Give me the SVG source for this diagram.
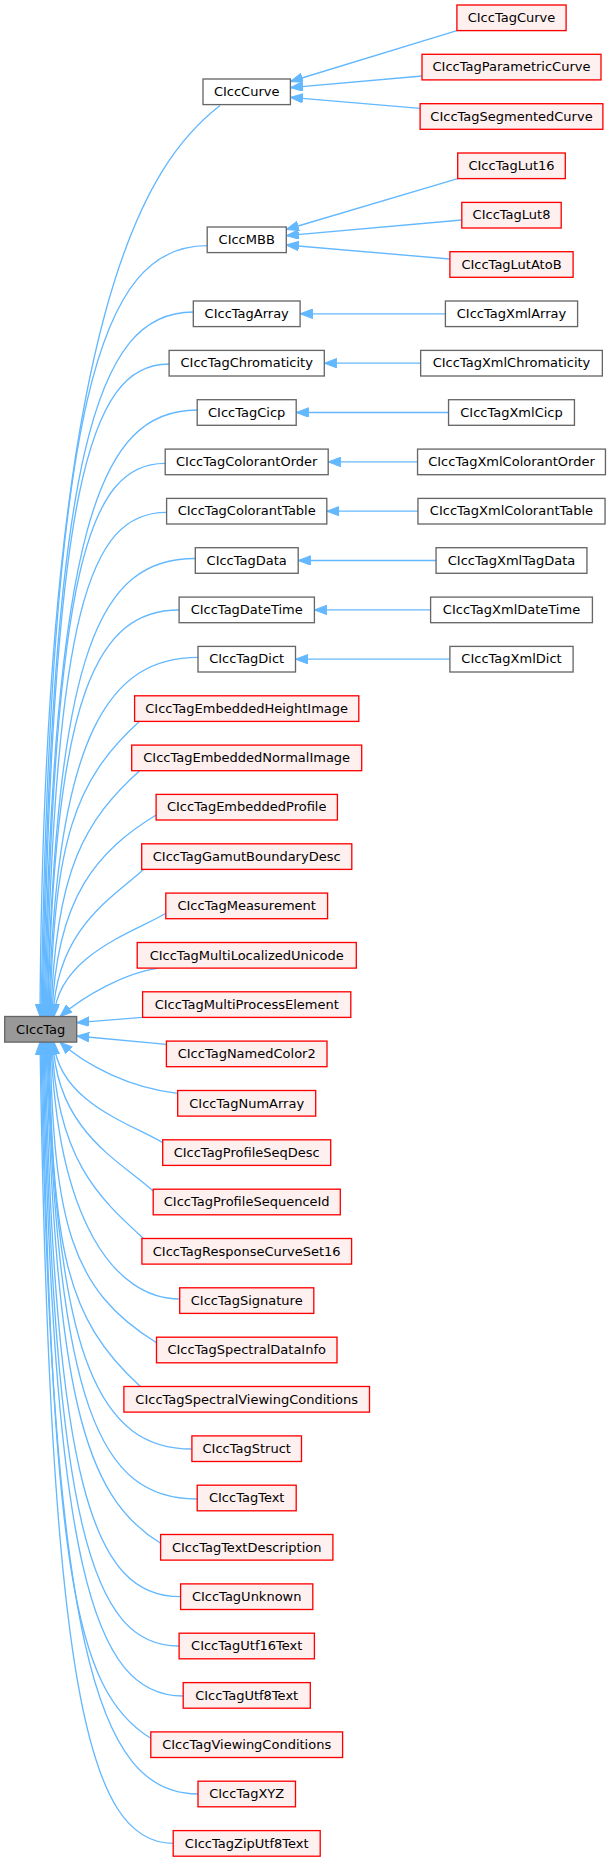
<svg xmlns="http://www.w3.org/2000/svg" width="611" height="1861" viewBox="0 0 611 1861">
<style>
rect{stroke-width:1.33}
.w rect{fill:#ffffff;stroke:#666666}
.r rect{fill:#fff0f0;stroke:#ff0000}
.g rect{fill:#999999;stroke:#666666}
text{font-family:"DejaVu Sans","Liberation Sans",sans-serif;font-size:13px;text-anchor:middle;fill:#000000}
#edges path{fill:none;stroke:#63b8ff;stroke-width:1.33;marker-start:url(#a)}
</style>
<defs>
<marker id="a" markerWidth="13" markerHeight="10" viewBox="0 0 13 10" refX="12.5" refY="4.75" orient="auto-start-reverse" markerUnits="userSpaceOnUse">
<path d="M0,0 L12.5,4.75 L0,9.5 z" fill="#63b8ff" stroke="#63b8ff" stroke-width="1"/>
</marker>
</defs>
<rect x="0" y="0" width="611" height="1861" fill="#ffffff"/>
<g id="edges">
<path d="M290.4,81.5 L456.9,30.6"/>
<path d="M290.4,87.7 L422,76"/>
<path d="M290.4,97.3 L420.1,108.3"/>
<path d="M286.3,229.5 L457.7,178.6"/>
<path d="M286.3,235.7 L461.8,220"/>
<path d="M286.3,245 L449.9,259"/>
<path d="M300.1,313.8 L445.4,313.8"/>
<path d="M324.3,363.2 L420.65,363.2"/>
<path d="M296.2,412.5 L448.55,412.5"/>
<path d="M328.2,461.9 L417.55,461.9"/>
<path d="M326.8,511.2 L417.95,511.2"/>
<path d="M298.2,560.5 L436.05,560.5"/>
<path d="M314.4,609.9 L430.6,609.9"/>
<path d="M295.5,659.2 L449.9,659.2"/>
<path d="M40,1016.5 C44,300 150,160 220,105.4"/>
<path d="M41,1016.5 C51,399.9 99.2,245.7 207.2,245.7"/>
<path d="M42,1016.5 C52,452.9 95,312 193.3,312"/>
<path d="M43,1016.5 C53,494.5 87.1,364 169.1,364"/>
<path d="M44,1016.5 C54,531.3 97.6,410 197.2,410"/>
<path d="M45,1016.5 C55,573.9 87.1,463.3 165.2,463.3"/>
<path d="M46,1016.5 C56,613.1 88.2,512.3 166.6,512.3"/>
<path d="M47,1016.5 C57,650.1 98.9,558.5 195.3,558.5"/>
<path d="M48,1016.5 C54,691.3 98.3,610 179.1,610"/>
<path d="M49,1016.5 C55,729.1 111.9,657.3 198,657.3"/>
<path d="M50,1016.5 C54,839.4 74.7,780.3 139.6,721.3"/>
<path d="M51,1016.5 C55,869 85.5,819.9 139.6,770.7"/>
<path d="M52,1016.5 C56,895.6 98.4,850.4 156.1,815"/>
<path d="M53,1016.5 C57,928.2 111.2,898.7 143.5,869.4"/>
<path d="M54,1016.5 C58,954.6 136.3,931.5 165.8,913.3"/>
<path d="M60,1016.5 C85,995 125,973 158,968.1"/>
<path d="M76.7,1022.7 L142.6,1017.3"/>
<path d="M76.7,1036 L166.4,1044.3"/>
<path d="M60,1042.1 C85,1065 130,1088 177.7,1093.3"/>
<path d="M54,1042.1 C58,1102.5 134,1125 162.7,1142.7"/>
<path d="M53,1042.1 C57,1131.4 120.4,1161.2 153.2,1191"/>
<path d="M52,1042.1 C56,1159.8 100.4,1199.1 143.5,1238.5"/>
<path d="M51,1042.1 C57,1221.9 115.3,1299 179.7,1299"/>
<path d="M50,1042.1 C54,1222.5 70.5,1289.8 156.5,1342.7"/>
<path d="M49,1042.1 C53,1248.7 64.6,1317.6 140.4,1386.5"/>
<path d="M48,1042.1 C54,1367.6 103.3,1449 191.9,1449"/>
<path d="M47,1042.1 C57,1407.6 99.6,1499 197.2,1499"/>
<path d="M46,1042.1 C56,1392.9 82.6,1495.3 160.6,1543.3"/>
<path d="M45,1042.1 C55,1485.8 92.5,1596.7 180.6,1596.7"/>
<path d="M44,1042.1 C54,1525.2 91.2,1646 179.1,1646"/>
<path d="M43,1042.1 C53,1565.2 92.1,1696 183.2,1696"/>
<path d="M42,1042.1 C52,1564.3 72.8,1690.3 150.8,1738.3"/>
<path d="M41,1042.1 C51,1643.6 96,1794 198,1794"/>
<path d="M40,1042.1 C50,1683.1 86.6,1843.3 173.2,1843.3"/>
</g>
<g id="CIccTagCurve" class="r"><rect x="456.9" y="5" width="109.2" height="25.6"/><text x="511.5" y="22">CIccTagCurve</text></g>
<g id="CIccTagParametricCurve" class="r"><rect x="422" y="54.3" width="179" height="25.6"/><text x="511.5" y="71.3">CIccTagParametricCurve</text></g>
<g id="CIccTagSegmentedCurve" class="r"><rect x="420.1" y="103.7" width="182.8" height="25.6"/><text x="511.5" y="120.7">CIccTagSegmentedCurve</text></g>
<g id="CIccTagLut16" class="r"><rect x="457.7" y="153" width="107.6" height="25.6"/><text x="511.5" y="170">CIccTagLut16</text></g>
<g id="CIccTagLut8" class="r"><rect x="461.8" y="202.4" width="99.4" height="25.6"/><text x="511.5" y="219.4">CIccTagLut8</text></g>
<g id="CIccTagLutAtoB" class="r"><rect x="449.9" y="251.7" width="123.2" height="25.6"/><text x="511.5" y="268.7">CIccTagLutAtoB</text></g>
<g id="CIccTagXmlArray" class="w"><rect x="445.4" y="301" width="132.2" height="25.6"/><text x="511.5" y="318">CIccTagXmlArray</text></g>
<g id="CIccTagXmlChromaticity" class="w"><rect x="420.65" y="350.4" width="181.7" height="25.6"/><text x="511.5" y="367.4">CIccTagXmlChromaticity</text></g>
<g id="CIccTagXmlCicp" class="w"><rect x="448.55" y="399.7" width="125.9" height="25.6"/><text x="511.5" y="416.7">CIccTagXmlCicp</text></g>
<g id="CIccTagXmlColorantOrder" class="w"><rect x="417.55" y="449.1" width="187.9" height="25.6"/><text x="511.5" y="466.1">CIccTagXmlColorantOrder</text></g>
<g id="CIccTagXmlColorantTable" class="w"><rect x="417.95" y="498.4" width="187.1" height="25.6"/><text x="511.5" y="515.4">CIccTagXmlColorantTable</text></g>
<g id="CIccTagXmlTagData" class="w"><rect x="436.05" y="547.7" width="150.9" height="25.6"/><text x="511.5" y="564.7">CIccTagXmlTagData</text></g>
<g id="CIccTagXmlDateTime" class="w"><rect x="430.6" y="597.1" width="161.8" height="25.6"/><text x="511.5" y="614.1">CIccTagXmlDateTime</text></g>
<g id="CIccTagXmlDict" class="w"><rect x="449.9" y="646.4" width="123.2" height="25.6"/><text x="511.5" y="663.4">CIccTagXmlDict</text></g>
<g id="CIccCurve" class="w"><rect x="203" y="79" width="87.4" height="25.6"/><text x="246.7" y="96">CIccCurve</text></g>
<g id="CIccMBB" class="w"><rect x="207.2" y="227" width="79.1" height="25.6"/><text x="246.7" y="244">CIccMBB</text></g>
<g id="CIccTagArray" class="w"><rect x="193.3" y="301" width="106.8" height="25.6"/><text x="246.7" y="318">CIccTagArray</text></g>
<g id="CIccTagChromaticity" class="w"><rect x="169.1" y="350.4" width="155.2" height="25.6"/><text x="246.7" y="367.4">CIccTagChromaticity</text></g>
<g id="CIccTagCicp" class="w"><rect x="197.2" y="399.7" width="99" height="25.6"/><text x="246.7" y="416.7">CIccTagCicp</text></g>
<g id="CIccTagColorantOrder" class="w"><rect x="165.2" y="449.1" width="163" height="25.6"/><text x="246.7" y="466.1">CIccTagColorantOrder</text></g>
<g id="CIccTagColorantTable" class="w"><rect x="166.6" y="498.4" width="160.2" height="25.6"/><text x="246.7" y="515.4">CIccTagColorantTable</text></g>
<g id="CIccTagData" class="w"><rect x="195.3" y="547.7" width="102.9" height="25.6"/><text x="246.7" y="564.7">CIccTagData</text></g>
<g id="CIccTagDateTime" class="w"><rect x="179.1" y="597.1" width="135.3" height="25.6"/><text x="246.7" y="614.1">CIccTagDateTime</text></g>
<g id="CIccTagDict" class="w"><rect x="198" y="646.4" width="97.5" height="25.6"/><text x="246.7" y="663.4">CIccTagDict</text></g>
<g id="CIccTagEmbeddedHeightImage" class="r"><rect x="134.6" y="695.8" width="224.2" height="25.6"/><text x="246.7" y="712.8">CIccTagEmbeddedHeightImage</text></g>
<g id="CIccTagEmbeddedNormalImage" class="r"><rect x="131.7" y="745.1" width="230" height="25.6"/><text x="246.7" y="762.1">CIccTagEmbeddedNormalImage</text></g>
<g id="CIccTagEmbeddedProfile" class="r"><rect x="156.1" y="794.4" width="181.3" height="25.6"/><text x="246.7" y="811.4">CIccTagEmbeddedProfile</text></g>
<g id="CIccTagGamutBoundaryDesc" class="r"><rect x="141.7" y="843.8" width="210.1" height="25.6"/><text x="246.7" y="860.8">CIccTagGamutBoundaryDesc</text></g>
<g id="CIccTagMeasurement" class="r"><rect x="165.8" y="893.1" width="161.8" height="25.6"/><text x="246.7" y="910.1">CIccTagMeasurement</text></g>
<g id="CIccTagMultiLocalizedUnicode" class="r"><rect x="137.2" y="942.5" width="219.1" height="25.6"/><text x="246.7" y="959.5">CIccTagMultiLocalizedUnicode</text></g>
<g id="CIccTagMultiProcessElement" class="r"><rect x="142.6" y="991.8" width="208.2" height="25.6"/><text x="246.7" y="1008.8">CIccTagMultiProcessElement</text></g>
<g id="CIccTag" class="g"><rect x="4.7" y="1016.5" width="72" height="25.6"/><text x="40.7" y="1033.5">CIccTag</text></g>
<g id="CIccTagNamedColor2" class="r"><rect x="166.4" y="1041.1" width="160.6" height="25.6"/><text x="246.7" y="1058.1">CIccTagNamedColor2</text></g>
<g id="CIccTagNumArray" class="r"><rect x="177.7" y="1090.5" width="138" height="25.6"/><text x="246.7" y="1107.5">CIccTagNumArray</text></g>
<g id="CIccTagProfileSeqDesc" class="r"><rect x="162.7" y="1139.8" width="168" height="25.6"/><text x="246.7" y="1156.8">CIccTagProfileSeqDesc</text></g>
<g id="CIccTagProfileSequenceId" class="r"><rect x="153.2" y="1189.2" width="187.1" height="25.6"/><text x="246.7" y="1206.2">CIccTagProfileSequenceId</text></g>
<g id="CIccTagResponseCurveSet16" class="r"><rect x="141.9" y="1238.5" width="209.7" height="25.6"/><text x="246.7" y="1255.5">CIccTagResponseCurveSet16</text></g>
<g id="CIccTagSignature" class="r"><rect x="179.7" y="1287.8" width="134.1" height="25.6"/><text x="246.7" y="1304.8">CIccTagSignature</text></g>
<g id="CIccTagSpectralDataInfo" class="r"><rect x="156.5" y="1337.2" width="180.5" height="25.6"/><text x="246.7" y="1354.2">CIccTagSpectralDataInfo</text></g>
<g id="CIccTagSpectralViewingConditions" class="r"><rect x="123.9" y="1386.5" width="245.6" height="25.6"/><text x="246.7" y="1403.5">CIccTagSpectralViewingConditions</text></g>
<g id="CIccTagStruct" class="r"><rect x="191.9" y="1435.9" width="109.6" height="25.6"/><text x="246.7" y="1452.9">CIccTagStruct</text></g>
<g id="CIccTagText" class="r"><rect x="197.2" y="1485.2" width="99" height="25.6"/><text x="246.7" y="1502.2">CIccTagText</text></g>
<g id="CIccTagTextDescription" class="r"><rect x="160.6" y="1534.5" width="172.3" height="25.6"/><text x="246.7" y="1551.5">CIccTagTextDescription</text></g>
<g id="CIccTagUnknown" class="r"><rect x="180.6" y="1583.9" width="132.2" height="25.6"/><text x="246.7" y="1600.9">CIccTagUnknown</text></g>
<g id="CIccTagUtf16Text" class="r"><rect x="179.1" y="1633.2" width="135.3" height="25.6"/><text x="246.7" y="1650.2">CIccTagUtf16Text</text></g>
<g id="CIccTagUtf8Text" class="r"><rect x="183.2" y="1682.6" width="127.1" height="25.6"/><text x="246.7" y="1699.6">CIccTagUtf8Text</text></g>
<g id="CIccTagViewingConditions" class="r"><rect x="150.8" y="1731.9" width="191.8" height="25.6"/><text x="246.7" y="1748.9">CIccTagViewingConditions</text></g>
<g id="CIccTagXYZ" class="r"><rect x="198" y="1781.2" width="97.5" height="25.6"/><text x="246.7" y="1798.2">CIccTagXYZ</text></g>
<g id="CIccTagZipUtf8Text" class="r"><rect x="173.2" y="1830.6" width="147" height="25.6"/><text x="246.7" y="1847.6">CIccTagZipUtf8Text</text></g>
</svg>
